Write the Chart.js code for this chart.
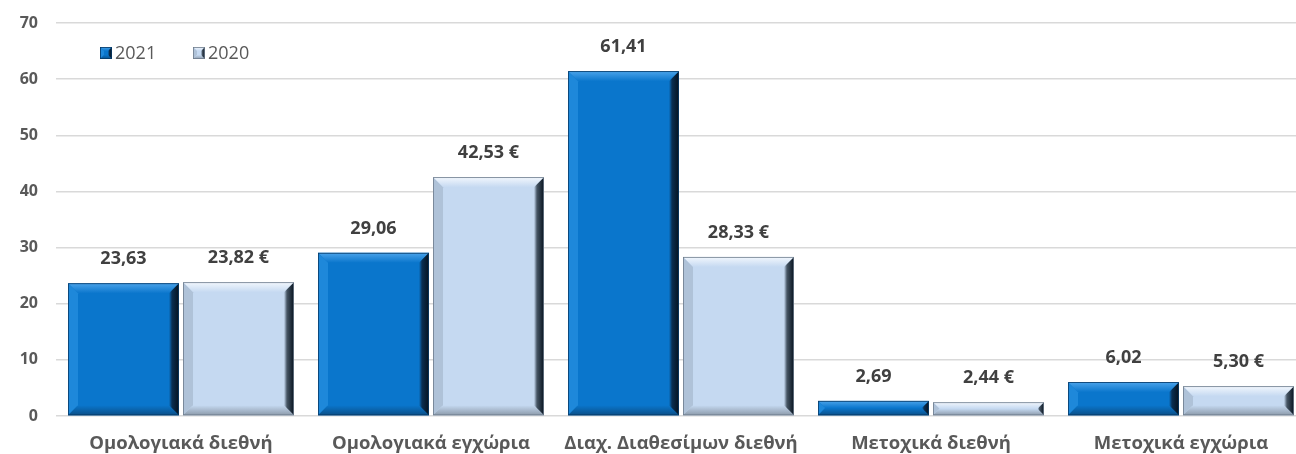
<!DOCTYPE html>
<html>
<head>
<meta charset="utf-8">
<script src="https://cdn.jsdelivr.net/npm/chart.js@4/dist/chart.umd.min.js"></script>
<style>
html,body{margin:0;padding:0;background:#fff;overflow:hidden;}
#wrap{width:1310px;height:454px;position:relative;}
</style>
</head>
<body>
<div id="wrap"><canvas id="c"></canvas></div>
<script>
const categories = ["Ομολογιακά διεθνή","Ομολογιακά εγχώρια","Διαχ. Διαθεσίμων διεθνή","Μετοχικά διεθνή","Μετοχικά εγχώρια"];
const seriesNames = ["2021","2020"];
const values2021 = [23.63, 29.06, 61.41, 2.69, 6.02];
const values2020 = [23.82, 42.53, 28.33, 2.44, 5.30];
const yTicks = [0,10,20,30,40,50,60,70];

const FONT = "'Open Sans', 'DejaVu Sans', sans-serif";
const TXT = "#595959";
Chart.defaults.font.family = FONT;

const styles = [
  {face:"#0A76CC", top:"#4AA3EA", left:"#1E88DA", right:"#0A2F52", bottom:"#0A4F88", edge:"#083A66"},
  {face:"#C5D9F1", top:"#F2F7FD", left:"#AFC2D8", right:"#465564", bottom:"#8C9AAA", edge:"#6E7C8C"}
];

function poly(ctx, pts, fill){
  ctx.beginPath();
  ctx.moveTo(pts[0][0], pts[0][1]);
  for(let i=1;i<pts.length;i++) ctx.lineTo(pts[i][0], pts[i][1]);
  ctx.closePath();
  ctx.fillStyle = fill;
  ctx.fill();
}

function drawBevelBox(ctx, l, t, r, b, st, bv){
  ctx.fillStyle = st.face;
  ctx.fillRect(l, t, r-l, b-t);
  const bb = Math.min(bv, (b-t)/2, (r-l)/2);
  let g = ctx.createLinearGradient(0, t, 0, t+bb);
  g.addColorStop(0, st.top); g.addColorStop(1, st.face);
  poly(ctx, [[l,t],[r,t],[r-bb,t+bb],[l+bb,t+bb]], g);
  poly(ctx, [[l,t],[l+bb,t+bb],[l+bb,b-bb],[l,b]], st.left);
  g = ctx.createLinearGradient(0, b-bb, 0, b);
  g.addColorStop(0, st.face); g.addColorStop(1, st.bottom);
  poly(ctx, [[l,b],[l+bb,b-bb],[r-bb,b-bb],[r,b]], g);
  g = ctx.createLinearGradient(r-bb, 0, r, 0);
  g.addColorStop(0, st.face); g.addColorStop(0.3, st.right); g.addColorStop(1, "#06121E");
  poly(ctx, [[r,t],[r,b],[r-bb,b-bb],[r-bb,t+bb]], g);
  ctx.strokeStyle = st.edge;
  ctx.lineWidth = 0.8;
  ctx.strokeRect(l+0.4, t+0.4, r-l-0.8, b-t-0.8);
}

const bevelPlugin = {
  id: 'bevel',
  afterDatasetsDraw(chart){
    const ctx = chart.ctx;
    ctx.save();
    chart.data.datasets.forEach((ds, di) => {
      const meta = chart.getDatasetMeta(di);
      meta.data.forEach((el, i) => {
        const p = el.getProps(['x','y','base','width'], true);
        const l = p.x - p.width/2, r = p.x + p.width/2;
        const t = Math.min(p.y, p.base), b = Math.max(p.y, p.base);
        drawBevelBox(ctx, l, t, r, b, styles[di], 10);
        const v = ds.data[i];
        let s = v.toFixed(2).replace('.', ',');
        if (di === 1) s += ' €';
        ctx.fillStyle = "#404040";
        ctx.font = "bold 18px " + FONT;
        ctx.textAlign = 'center';
        ctx.textBaseline = 'middle';
        ctx.fillText(s, p.x, t - 24);
      });
    });
    const lx = [100, 193];
    chart.data.datasets.forEach((ds, di) => {
      const x = lx[di], y = 47;
      drawBevelBox(ctx, x, y, x+12, y+12, styles[di], 4);
      ctx.fillStyle = TXT;
      ctx.font = "18px " + FONT;
      ctx.textAlign = 'left';
      ctx.textBaseline = 'middle';
      ctx.fillText(ds.label, x+15, y+7);
    });
    ctx.restore();
  }
};

new Chart(document.getElementById('c'), {
  type: 'bar',
  data: {
    labels: categories,
    datasets: [
      {label: seriesNames[0], data: values2021, backgroundColor: 'rgba(0,0,0,0)'},
      {label: seriesNames[1], data: values2020, backgroundColor: 'rgba(0,0,0,0)'}
    ]
  },
  plugins: [bevelPlugin],
  options: {
    responsive: true,
    maintainAspectRatio: false,
    animation: false,
    layout: {padding: {top: 23, right: 4, bottom: 0, left: 0}},
    categoryPercentage: 0.92,
    barPercentage: 0.965,
    plugins: {legend: {display: false}, tooltip: {enabled: false}},
    scales: {
      x: {
        grid: {display: false, drawTicks: false},
        border: {display: false},
        ticks: {color: TXT, font: {size: 18.5, weight: 'bold'}, padding: 17, maxRotation: 0},
        afterFit(s){ s.height = 38; }
      },
      y: {
        min: yTicks[0], max: yTicks[yTicks.length-1],
        ticks: {stepSize: 10, color: TXT, font: {size: 16, weight: 'bold'}, padding: 18,
                callback: (v) => yTicks.includes(v) ? String(v) : null},
        grid: {color: '#D9D9D9', lineWidth: 1.5, drawTicks: false},
        border: {display: false},
        afterFit(s){ s.width = 56; s.paddingTop = 0; s.paddingBottom = 0; }
      }
    }
  }
});
</script>
</body>
</html>
